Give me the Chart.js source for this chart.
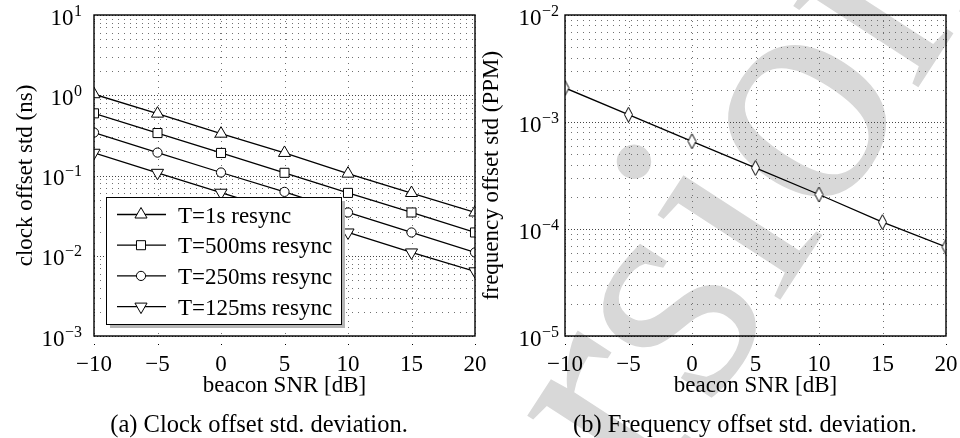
<!DOCTYPE html>
<html>
<head>
<meta charset="utf-8">
<script src="https://cdn.jsdelivr.net/npm/chart.js@4.4.0/dist/chart.umd.min.js"></script>
<style>
  html, body { margin: 0; padding: 0; background: #fff; }
  #wrap { position: relative; width: 960px; height: 438px; overflow: hidden; }
  canvas { position: absolute; top: 0; }
  #wm { left: 0; }
  #clockChart { left: 0; }
  #freqChart { left: 480px; }
</style>
</head>
<body>
<div id="wrap">
  <canvas id="wm" width="960" height="438"></canvas>
  <canvas id="clockChart" width="520" height="438"></canvas>
  <canvas id="freqChart" width="480" height="438"></canvas>
</div>
<script>
// values
const snr = [-10, -5, 0, 5, 10, 15, 20];
const clock1s = [1.03, 0.59, 0.332, 0.191, 0.1055, 0.0605, 0.0346];
const clock500ms = [0.595, 0.338, 0.191, 0.108, 0.0607, 0.0346, 0.0195];
const clock250ms = [0.343, 0.193, 0.109, 0.0625, 0.0346, 0.0195, 0.011];
const clock125ms = [0.192, 0.108, 0.061, 0.0346, 0.0195, 0.011, 0.0064];
const freqStd = [2.08e-3, 1.17e-3, 6.6e-4, 3.72e-4, 2.1e-4, 1.16e-4, 6.8e-5];

const xTicks = [-10, -5, 0, 5, 10, 15, 20];
const clockDecades = [-3, -2, -1, 0, 1];
const freqDecades = [-5, -4, -3, -2];
const clockLabels = ["T=1s resync", "T=500ms resync", "T=250ms resync", "T=125ms resync"];

const FONT = '"Liberation Serif", "Times New Roman", serif';

// watermark behind the plots
(function () {
  const c = document.getElementById("wm").getContext("2d");
  c.save();
  c.translate(462, 790);
  c.rotate(-57 * Math.PI / 180);
  c.fillStyle = "#d8d8d8";
  c.font = "325px " + FONT;
  c.fillText("Version", 0, 0);
  c.restore();
})();

// tall diamond marker for the frequency plot
function diamondMarker() {
  const cv = document.createElement("canvas");
  cv.width = 11; cv.height = 17;
  const c = cv.getContext("2d");
  c.beginPath();
  c.moveTo(5.5, 1); c.lineTo(9.5, 8.5); c.lineTo(5.5, 16); c.lineTo(1.5, 8.5);
  c.closePath();
  c.fillStyle = "#fff"; c.fill();
  c.strokeStyle = "#000"; c.lineWidth = 1; c.stroke();
  return cv;
}

const pts = vals => snr.map((s, i) => ({ x: s, y: vals[i] }));

function series(label, vals, style, radius, rot) {
  return {
    label: label,
    data: pts(vals),
    borderColor: "#000",
    borderWidth: 1.3,
    pointStyle: style,
    pointRadius: radius,
    pointRotation: rot || 0,
    pointBackgroundColor: "#fff",
    pointBorderColor: "#000",
    pointBorderWidth: 1,
    clip: 0,
    tension: 0
  };
}

function hline(ctx, x0, x1, y) { ctx.beginPath(); ctx.moveTo(x0, y); ctx.lineTo(x1, y); ctx.stroke(); }
function vline(ctx, x, y0, y1) { ctx.beginPath(); ctx.moveTo(x, y0); ctx.lineTo(x, y1); ctx.stroke(); }

// grid, frame, tick texts, titles, legend
function decor(cfg) {
  return {
    id: "decor",
    beforeDatasetsDraw(chart) {
      const { ctx, chartArea: a, scales: { x, y } } = chart;
      ctx.save();
      ctx.lineWidth = 1;
      // minor horizontal grid
      ctx.strokeStyle = "#707070";
      ctx.setLineDash([1, 5]);
      for (let i = 0; i < cfg.decades.length - 1; i++) {
        for (let m = 2; m <= 9; m++) {
          const py = Math.round(y.getPixelForValue(m * 10 ** cfg.decades[i])) + 0.5;
          hline(ctx, a.left, a.right, py);
        }
      }
      // vertical grid
      xTicks.forEach(v => {
        const px = Math.round(x.getPixelForValue(v)) + 0.5;
        vline(ctx, px, a.top, a.bottom);
      });
      // major horizontal grid
      ctx.strokeStyle = "#444";
      ctx.setLineDash([1, 2]);
      cfg.decades.forEach(e => {
        const py = Math.round(y.getPixelForValue(10 ** e)) + 0.5;
        hline(ctx, a.left, a.right, py);
      });
      ctx.restore();
    },
    afterDatasetsDraw(chart) {
      const { ctx, chartArea: a, scales: { x } } = chart;
      ctx.save();
      ctx.strokeStyle = "#000";
      ctx.lineWidth = 1.4;
      ctx.strokeRect(a.left, a.top, a.right - a.left, a.bottom - a.top);
      // little dots under the axis
      ctx.fillStyle = "#000";
      xTicks.forEach(v => {
        ctx.fillRect(Math.round(x.getPixelForValue(v)), a.bottom + 8, 1, 1);
      });
      if (cfg.legend) {
        const L = cfg.legend;
        ctx.fillStyle = "#b5b5b5";
        ctx.fillRect(L.x + 4, L.y + 4, L.w, L.h);
        ctx.fillStyle = "#fff";
        ctx.fillRect(L.x, L.y, L.w, L.h);
        ctx.lineWidth = 1;
        ctx.strokeRect(L.x + 0.5, L.y + 0.5, L.w, L.h);
        chart.data.datasets.forEach((ds, i) => {
          const cy = L.y + L.first + i * L.step;
          ctx.lineWidth = 1.3;
          ctx.strokeStyle = "#000";
          hline(ctx, L.x + 11, L.x + 60, cy);
          ctx.fillStyle = "#fff";
          ctx.lineWidth = 1;
          Chart.helpers.drawPoint(ctx, {
            pointStyle: ds.pointStyle, radius: ds.pointRadius,
            rotation: ds.pointRotation, borderWidth: 1
          }, L.x + 35, cy);
          ctx.fillStyle = "#000";
          ctx.font = "23px " + FONT;
          ctx.textAlign = "left";
          ctx.textBaseline = "alphabetic";
          ctx.fillText(ds.label, L.x + 72, cy + 8);
        });
      }
      ctx.restore();
    },
    afterDraw(chart) {
      const { ctx, chartArea: a, scales: { x, y } } = chart;
      ctx.save();
      ctx.fillStyle = "#000";
      ctx.textBaseline = "alphabetic";
      // x tick labels
      ctx.font = "23px " + FONT;
      ctx.textAlign = "center";
      xTicks.forEach(v => {
        const t = v < 0 ? "\u2212" + Math.abs(v) : String(v);
        ctx.fillText(t, x.getPixelForValue(v), 371);
      });
      // y tick labels 10^e
      cfg.decades.forEach(e => {
        const py = y.getPixelForValue(10 ** e);
        const ex = (e < 0 ? "\u2212" : "") + Math.abs(e);
        ctx.font = "16px " + FONT;
        const ew = ctx.measureText(ex).width;
        ctx.textAlign = "left";
        ctx.fillText(ex, cfg.labelRight - ew, py + 0.5);
        ctx.font = "23px " + FONT;
        ctx.textAlign = "right";
        ctx.fillText("10", cfg.labelRight - ew - 0.5, py + 9.5);
      });
      // x title
      ctx.font = "23px " + FONT;
      ctx.textAlign = "center";
      ctx.fillText("beacon SNR [dB]", (a.left + a.right) / 2, 392);
      // y title
      ctx.save();
      ctx.translate(cfg.titleX, (a.top + a.bottom) / 2);
      ctx.rotate(-Math.PI / 2);
      ctx.fillText(cfg.yTitle, 0, 0);
      ctx.restore();
      // caption
      ctx.font = "24.5px " + FONT;
      ctx.fillText(cfg.caption, cfg.captionX, 431.5);
      ctx.restore();
    }
  };
}

function makeChart(id, datasets, pad, yMin, yMax, cfg) {
  return new Chart(document.getElementById(id), {
    type: "line",
    data: { datasets: datasets },
    options: {
      responsive: false,
      animation: false,
      devicePixelRatio: 1,
      layout: { padding: pad },
      plugins: { legend: { display: false }, tooltip: { enabled: false } },
      scales: {
        x: { type: "linear", min: -10, max: 20, display: false },
        y: { type: "logarithmic", min: yMin, max: yMax, display: false }
      }
    },
    plugins: [decor(cfg)]
  });
}

makeChart("clockChart", [
  series(clockLabels[0], clock1s, "triangle", 7),
  series(clockLabels[1], clock500ms, "rect", 6.4),
  series(clockLabels[2], clock250ms, "circle", 4.6),
  series(clockLabels[3], clock125ms, "triangle", 7, 180)
], { left: 94, right: 45, top: 15, bottom: 102 }, 1e-3, 10, {
  decades: clockDecades,
  labelRight: 82,
  titleX: 32,
  yTitle: "clock offset std (ns)",
  caption: "(a) Clock offset std. deviation.",
  captionX: 259,
  legend: { x: 106, y: 197, w: 235, h: 127, first: 17.5, step: 30.7 }
});

makeChart("freqChart", [
  series("frequency offset", freqStd, diamondMarker(), 7)
], { left: 85, right: 14, top: 15, bottom: 102 }, 1e-5, 1e-2, {
  decades: freqDecades,
  labelRight: 79,
  titleX: 18,
  yTitle: "frequency offset std (PPM)",
  caption: "(b) Frequency offset std. deviation.",
  captionX: 265,
  legend: null
});
</script>
</body>
</html>
